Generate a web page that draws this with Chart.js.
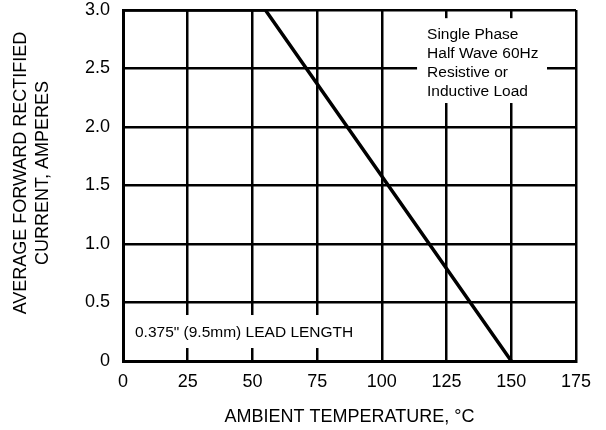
<!DOCTYPE html>
<html>
<head>
<meta charset="utf-8">
<script src="https://cdn.jsdelivr.net/npm/chart.js@4/dist/chart.umd.min.js"></script>
<style>
  html, body { margin: 0; padding: 0; background: #fff; }
  #wrap { width: 606px; height: 430px; }
</style>
</head>
<body>
<div id="wrap"><canvas id="chart" width="606" height="430"></canvas></div>
<script>
// derating curve
const temps = [0, 55, 150];
const amps = [3.0, 3.0, 0];
const xTicks = [0, 25, 50, 75, 100, 125, 150, 175];
const yTicks = [0, 0.5, 1.0, 1.5, 2.0, 2.5, 3.0];
const noteLines = ["Single Phase", "Half Wave 60Hz", "Resistive or", "Inductive Load"];
const leadNote = "0.375\" (9.5mm) LEAD LENGTH";
const xTitle = "AMBIENT TEMPERATURE, °C";
const yTitle = ["AVERAGE FORWARD RECTIFIED", "CURRENT, AMPERES"];

const FONT = "'Liberation Sans', Arial, sans-serif";

const notes = {
  id: "notes",
  beforeDatasetsDraw(chart) {
    const ctx = chart.ctx, x = chart.scales.x, y = chart.scales.y;
    ctx.save();
    ctx.fillStyle = "#fff";
    // upper right box
    let l = x.getPixelForValue(113.6), r = x.getPixelForValue(163.8);
    let t = y.getPixelForValue(2.93), b = y.getPixelForValue(2.205);
    ctx.fillRect(l, t, r - l, b - t);
    // lead length box
    let l2 = x.getPixelForValue(2.7), r2 = x.getPixelForValue(93.5);
    let t2 = y.getPixelForValue(0.393), b2 = y.getPixelForValue(0.111);
    ctx.fillRect(l2, t2, r2 - l2, b2 - t2);

    ctx.fillStyle = "#000";
    ctx.font = "15.5px " + FONT;
    ctx.textBaseline = "middle";
    ctx.textAlign = "left";
    noteLines.forEach((s, i) => ctx.fillText(s, l + 10, t + 17 + i * 18.7));
    ctx.fillText(leadNote, l2 + 5, (t2 + b2) / 2 + 1);
    ctx.restore();
  },
  afterDraw(chart) {
    const ctx = chart.ctx, a = chart.chartArea;
    ctx.save();
    ctx.fillStyle = "#000";
    ctx.font = "18px " + FONT;
    ctx.textAlign = "center";
    ctx.textBaseline = "middle";
    ctx.fillText(xTitle, (a.left + a.right) / 2, 417);
    ctx.translate(32, 173);
    ctx.rotate(-Math.PI / 2);
    ctx.fillText(yTitle[0], 0, -11);
    ctx.fillText(yTitle[1], 0, 11);
    ctx.restore();
  }
};

new Chart(document.getElementById("chart"), {
  type: "line",
  data: {
    datasets: [{
      data: temps.map((t, i) => ({ x: t, y: amps[i] })),
      borderColor: "#000",
      borderWidth: 3.5,
      pointRadius: 0,
      tension: 0
    }]
  },
  options: {
    responsive: false,
    animation: false,
    layout: { padding: { left: 0, right: 30, top: 10, bottom: 0 } },
    plugins: { legend: { display: false }, tooltip: { enabled: false } },
    scales: {
      x: {
        type: "linear",
        min: 0, max: 175,
        afterBuildTicks: s => { s.ticks = xTicks.map(v => ({ value: v })); },
        afterFit: s => { s.height = 69; s.paddingLeft = 0; s.paddingRight = 0; },
        grid: { color: "#000", lineWidth: 2.5, drawTicks: false },
        border: { color: "#000", width: 3 },
        ticks: { color: "#000", font: { size: 18, family: FONT }, padding: 10, maxRotation: 0 }
      },
      y: {
        min: 0, max: 3,
        afterBuildTicks: s => { s.ticks = yTicks.map(v => ({ value: v })); },
        afterFit: s => { s.width = 123; s.paddingTop = 0; s.paddingBottom = 0; },
        grid: { color: "#000", lineWidth: 2.5, drawTicks: false },
        border: { color: "#000", width: 3 },
        ticks: {
          color: "#000", font: { size: 18, family: FONT }, padding: 13,
          callback: v => v === 0 ? "0" : v.toFixed(1)
        }
      }
    }
  },
  plugins: [notes]
});
</script>
</body>
</html>
